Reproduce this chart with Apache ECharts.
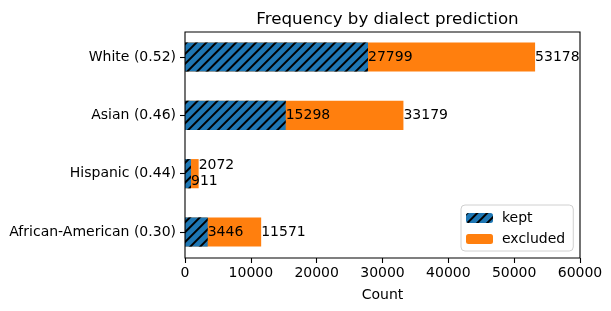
<!DOCTYPE html>
<html><head><meta charset="utf-8">
<script src="https://cdn.jsdelivr.net/npm/echarts@6/dist/echarts.min.js"></script>
<style>html,body{margin:0;padding:0;background:#fff}#c{width:611px;height:311px}</style>
</head><body><div id="c"></div>
<script>
// categories bottom-to-top (ECharts y category order)
const categories = ['African-American (0.30)', 'Hispanic (0.44)', 'Asian (0.46)', 'White (0.52)'];
const kept = [3446, 911, 15298, 27799];
const total = [11571, 2072, 33179, 53178];
const xTicks = [0, 10000, 20000, 30000, 40000, 50000, 60000];

const FONT = 'DejaVu Sans';
const FS = 14;
const chart = echarts.init(document.getElementById('c'), null, {renderer: 'canvas'});
const L = 185, R = 31;
chart.setOption({
  animation: false,
  backgroundColor: '#fff',
  title: {text: 'Frequency by dialect prediction', left: 382.5, textAlign: 'center', top: 6,
    textStyle: {fontFamily: FONT, fontSize: 16.7, fontWeight: 'normal', color: '#000'}},
  grid: [
    {left: L, right: R, top: 27.83, bottom: 49.83, show: false},
    {left: L, right: R, top: 32, bottom: 53, show: true, borderColor: '#000', borderWidth: 1.1, backgroundColor: 'transparent', z: 5}
  ],
  xAxis: [
    {gridIndex: 0, type: 'value', min: 0, max: 60000, show: false},
    {gridIndex: 1, type: 'value', min: 0, max: 60000, interval: 10000,
      name: 'Count', nameLocation: 'middle', nameGap: 30,
      nameTextStyle: {fontFamily: FONT, fontSize: FS, color: '#000'},
      axisLine: {show: false}, splitLine: {show: false},
      axisTick: {show: true, length: 5, lineStyle: {color: '#000', width: 1.1}},
      axisLabel: {fontFamily: FONT, fontSize: FS, color: '#000', margin: 8,
        formatter: v => xTicks.includes(v) ? String(v) : ''}}
  ],
  yAxis: [
    {gridIndex: 0, type: 'category', data: categories,
      axisLine: {show: false},
      axisTick: {show: true, alignWithLabel: true, length: 5, lineStyle: {color: '#000', width: 1.1}},
      axisLabel: {fontFamily: FONT, fontSize: FS, color: '#000', margin: 9}},
    {gridIndex: 1, type: 'value', min: 0, max: 1, show: false}
  ],
  legend: {
    data: ['kept', 'excluded'], orient: 'vertical', left: 461, top: 205,
    itemWidth: 27, itemHeight: 10, itemGap: 7,
    backgroundColor: '#fff', borderColor: '#d0d0d0', borderWidth: 1, borderRadius: 4,
    padding: [6, 8, 5, 5],
    textStyle: {fontFamily: FONT, fontSize: FS, color: '#000', padding: [0, 0, 0, 4]}
  },
  series: [
    {name: 'excluded', type: 'bar', xAxisIndex: 0, yAxisIndex: 0, data: total, barWidth: '50%', barGap: '-100%',
      itemStyle: {color: '#ff7f0e'},
      label: {show: true, position: 'right', distance: 0, fontFamily: FONT, fontSize: FS, color: '#000',
        formatter: p => String(p.value)},
      labelLayout: p => p.dataIndex === 1 ? {dy: -8} : {}
    },
    {name: 'kept', type: 'bar', xAxisIndex: 0, yAxisIndex: 0, data: kept, barWidth: '50%', barGap: '-100%',
      itemStyle: {color: '#1f77b4', decal: {symbol: 'rect', symbolSize: 1, color: '#000',
        dashArrayX: [1, 0], dashArrayY: [1.2, 4.7], rotation: -Math.PI / 4}},
      label: {show: true, position: 'right', distance: 0, fontFamily: FONT, fontSize: FS, color: '#000',
        formatter: p => String(p.value)},
      labelLayout: p => p.dataIndex === 1 ? {dy: 8} : {}
    }
  ]
});
</script></body></html>
